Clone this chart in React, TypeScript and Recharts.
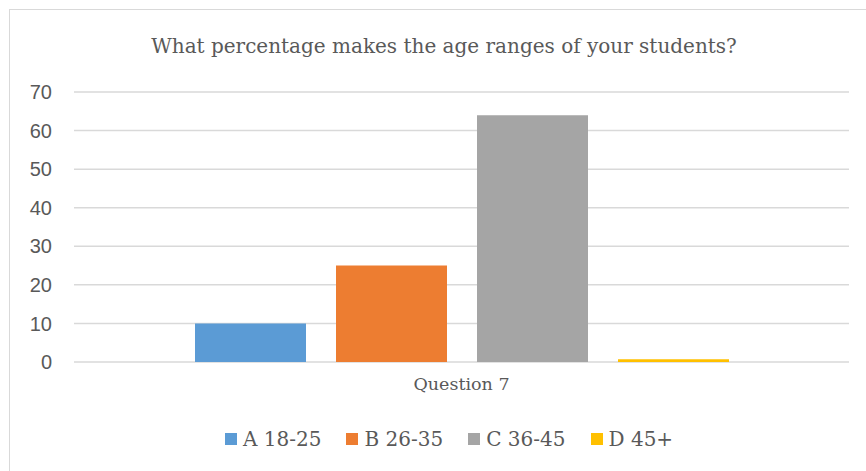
import React from 'react';
import { BarChart, Bar, XAxis, YAxis, CartesianGrid, Legend } from 'recharts';

const categories = ['Question 7'];
const seriesNames = ['A 18-25', 'B 26-35', 'C 36-45', 'D 45+'];
const seriesKeys = ['a', 'b', 'c', 'd'];
const seriesValues = [[10], [25], [64], [0.7]];
const seriesColors = ['#5B9BD5', '#ED7D31', '#A5A5A5', '#FFC000'];
const yTicks = [0, 10, 20, 30, 40, 50, 60, 70];
const title = 'What percentage makes the age ranges of your students?';

const data = categories.map((c, i) => {
  const row: Record<string, any> = { name: c };
  seriesKeys.forEach((k, j) => {
    row[k] = seriesValues[j][i];
  });
  return row;
});

const SERIF = '"DejaVu Serif", serif';
const SANS = '"Liberation Sans", Arial, sans-serif';
const TEXT = '#595959';

const LegendContent = () => (
  <div style={{ display: 'flex', alignItems: 'center', fontFamily: SERIF, fontSize: 20, color: TEXT, whiteSpace: 'nowrap', height: 24 }}>
    {seriesNames.map((n, i) => (
      <div key={n} style={{ display: 'flex', alignItems: 'center', marginRight: i < seriesNames.length - 1 ? 25 : 0 }}>
        <div style={{ width: 12, height: 12, background: seriesColors[i], marginRight: 6 }} />
        <span>{n}</span>
      </div>
    ))}
  </div>
);

export default function App() {
  return (
    <div style={{ position: 'absolute', left: 0, top: 0, width: 866, height: 471, overflow: 'hidden', background: '#fff' }}>
      <div style={{ position: 'absolute', left: 9, top: 9, width: 900, height: 500, border: '1.5px solid #D9D9D9', boxSizing: 'border-box' }} />
      <div style={{ position: 'absolute', left: 0, top: 30, width: 888, textAlign: 'center', fontFamily: SERIF, fontSize: 20, color: TEXT, lineHeight: '32px' }}>
        {title}
      </div>
      <div style={{ position: 'absolute', left: 0, top: 0 }}>
        <BarChart width={866} height={471} data={data} margin={{ top: 92, right: 17, bottom: 55, left: 0 }} barCategoryGap={120} barGap={30}>
          <CartesianGrid vertical={false} stroke="#D9D9D9" strokeWidth={1.5} />
          <XAxis dataKey="name" height={30} axisLine={false} tickLine={false} tickSize={0} tickMargin={16}
            tick={{ fill: TEXT, fontFamily: SERIF, fontSize: 17.5 }} />
          <YAxis width={74} domain={[0, 70]} ticks={yTicks} axisLine={false} tickLine={false} tickSize={0} tickMargin={22}
            tick={{ fill: TEXT, fontFamily: SANS, fontSize: 20 }} interval={0} />
          <Legend content={<LegendContent />} wrapperStyle={{ position: 'absolute', left: 225, top: 427, width: 'auto', height: 24 }} />
          {seriesKeys.map((k, j) => (
            <Bar key={k} dataKey={k} name={seriesNames[j]} fill={seriesColors[j]} barSize={111} isAnimationActive={false} />
          ))}
        </BarChart>
      </div>
    </div>
  );
}
